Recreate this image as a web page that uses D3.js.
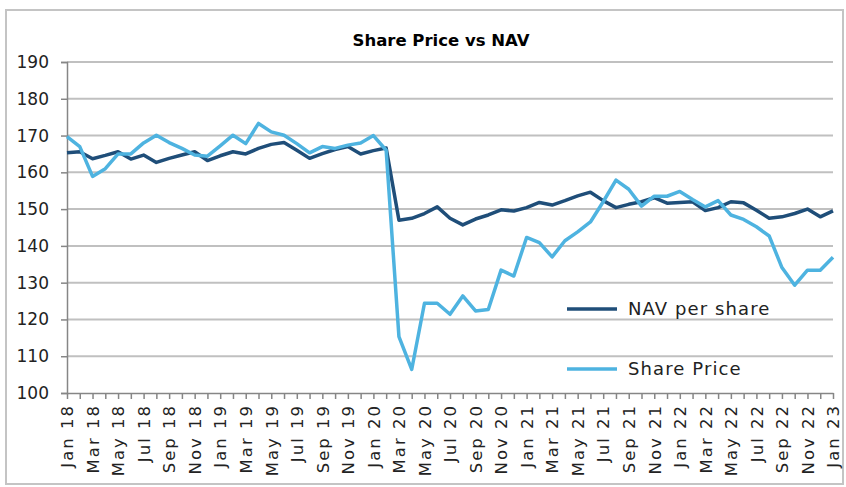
<!DOCTYPE html>
<html>
<head>
<meta charset="utf-8">
<script src="https://cdn.jsdelivr.net/npm/d3@7"></script>
<style>
  html, body { margin: 0; padding: 0; background: #fff; }
  svg { display: block; font-family: "DejaVu Sans", sans-serif; }
</style>
</head>
<body>
<svg id="chart" width="846" height="487"></svg>
<script>
const months = [
  "Jan 18","Feb 18","Mar 18","Apr 18","May 18","Jun 18","Jul 18","Aug 18","Sep 18","Oct 18","Nov 18","Dec 18",
  "Jan 19","Feb 19","Mar 19","Apr 19","May 19","Jun 19","Jul 19","Aug 19","Sep 19","Oct 19","Nov 19","Dec 19",
  "Jan 20","Feb 20","Mar 20","Apr 20","May 20","Jun 20","Jul 20","Aug 20","Sep 20","Oct 20","Nov 20","Dec 20",
  "Jan 21","Feb 21","Mar 21","Apr 21","May 21","Jun 21","Jul 21","Aug 21","Sep 21","Oct 21","Nov 21","Dec 21",
  "Jan 22","Feb 22","Mar 22","Apr 22","May 22","Jun 22","Jul 22","Aug 22","Sep 22","Oct 22","Nov 22","Dec 22",
  "Jan 23"
];
const navPerShare = [
  165.3,165.6,163.7,164.6,165.6,163.6,164.7,162.7,163.8,164.7,165.6,163.2,
  164.5,165.6,165.0,166.5,167.6,168.1,166.0,163.8,165.1,166.2,167.0,165.0,
  165.9,166.6,147.0,147.5,148.8,150.6,147.5,145.7,147.3,148.4,149.8,149.5,
  150.4,151.8,151.1,152.3,153.6,154.6,152.3,150.4,151.3,152.0,153.1,151.6,
  151.8,152.0,149.6,150.4,152.0,151.7,149.7,147.5,147.9,148.8,150.0,147.9,
  149.5
];
const sharePrice = [
  169.7,167.0,158.9,161.0,165.0,165.0,168.0,170.1,168.1,166.5,164.7,164.4,
  167.2,170.1,167.8,173.3,171.0,170.1,167.8,165.3,167.0,166.5,167.4,168.0,
  170.0,166.0,115.3,106.4,124.4,124.4,121.4,126.4,122.3,122.7,133.4,131.8,
  142.3,140.9,137.0,141.4,143.8,146.5,152.0,157.9,155.4,150.8,153.5,153.5,
  154.8,152.6,150.6,152.3,148.4,147.2,145.2,142.7,134.1,129.3,133.4,133.4,
  136.9
];
const yTicks = [100,110,120,130,140,150,160,170,180,190];
const seriesNames = ["NAV per share", "Share Price"];
const seriesColors = ["#1f4e79", "#4eb3e0"];

const svg = d3.select("#chart");

// outer frame
svg.append("rect")
  .attr("x", 6).attr("y", 10).attr("width", 837).attr("height", 474)
  .attr("fill", "#fff").attr("stroke", "#c4c4c4").attr("stroke-width", 2);

const x = d3.scaleLinear().domain([0, months.length - 1]).range([67, 833]);
const y = d3.scaleLinear().domain([100, 190]).range([393, 62]);

// title
svg.append("text")
  .attr("x", 441).attr("y", 46)
  .attr("text-anchor", "middle")
  .attr("font-size", 16.5).attr("font-weight", "bold")
  .attr("fill", "#000")
  .text("Share Price vs NAV");

// gridlines
svg.append("g").selectAll("line")
  .data(yTicks.filter(t => t > 100))
  .join("line")
  .attr("x1", x(0)).attr("x2", x(months.length - 1))
  .attr("y1", d => y(d)).attr("y2", d => y(d))
  .attr("stroke", "#c0c0c0").attr("stroke-width", 2);

// y axis
const yAxis = svg.append("g")
  .attr("transform", `translate(${x(0)},0)`)
  .call(d3.axisLeft(y).tickValues(yTicks).tickSize(6).tickPadding(12).tickFormat(d3.format("d")));
yAxis.select(".domain").attr("stroke", "#868686").attr("stroke-width", 1.5);
yAxis.selectAll(".tick line").attr("stroke", "#868686").attr("stroke-width", 1.5);
yAxis.selectAll(".tick text")
  .attr("font-size", 17).attr("fill", "#222")
  .attr("font-family", "DejaVu Sans, sans-serif");

// x axis
const xAxis = svg.append("g")
  .attr("transform", `translate(0,${y(100)})`)
  .call(d3.axisBottom(x)
    .tickValues(d3.range(months.length))
    .tickSize(6)
    .tickSizeOuter(0)
    .tickFormat(i => (i % 2 === 0 ? months[i] : "")));
xAxis.select(".domain").attr("stroke", "#868686").attr("stroke-width", 1.5);
xAxis.selectAll(".tick line").attr("stroke", "#868686").attr("stroke-width", 1.5);
xAxis.selectAll(".tick text")
  .attr("font-size", 16.5).attr("fill", "#222")
  .attr("font-family", "DejaVu Sans, sans-serif")
  .attr("letter-spacing", "2px")
  .attr("text-anchor", "end")
  .attr("transform", "translate(0,11) rotate(-90)")
  .attr("x", 0).attr("y", 0).attr("dy", "0.35em");

// lines
const lineGen = d3.line().x((d, i) => x(i)).y(d => y(d));
[navPerShare, sharePrice].forEach((vals, k) => {
  svg.append("path")
    .datum(vals)
    .attr("fill", "none")
    .attr("stroke", seriesColors[k])
    .attr("stroke-width", 3.5)
    .attr("stroke-linejoin", "round")
    .attr("d", lineGen);
});

// legend
const legY = [309, 369];
seriesNames.forEach((name, k) => {
  svg.append("line")
    .attr("x1", 567).attr("x2", 617)
    .attr("y1", legY[k]).attr("y2", legY[k])
    .attr("stroke", seriesColors[k]).attr("stroke-width", 3.5);
  svg.append("text")
    .attr("x", 628).attr("y", legY[k]).attr("dy", "0.35em")
    .attr("font-size", 18).attr("letter-spacing", "1.1px")
    .attr("fill", "#222")
    .text(name);
});
</script>
</body>
</html>
